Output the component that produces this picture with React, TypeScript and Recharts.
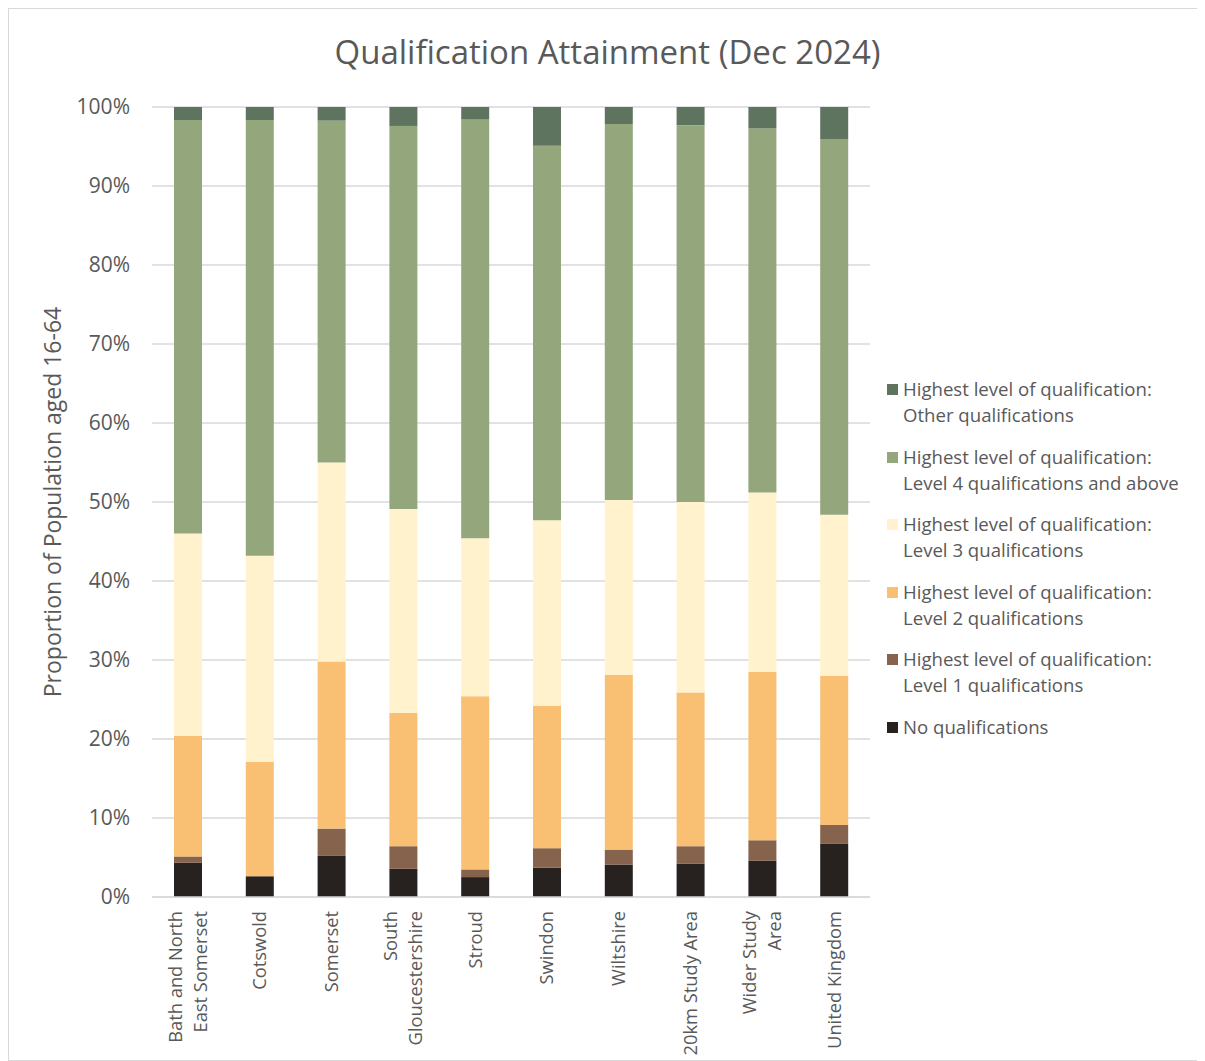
import React from 'react';
import { BarChart, Bar, XAxis, YAxis, CartesianGrid, Legend } from 'recharts';

const categories = [
  'Bath and North East Somerset',
  'Cotswold',
  'Somerset',
  'South Gloucestershire',
  'Stroud',
  'Swindon',
  'Wiltshire',
  '20km Study Area',
  'Wider Study Area',
  'United Kingdom',
];

const categoryLines: string[][] = [
  ['Bath and North', 'East Somerset'],
  ['Cotswold'],
  ['Somerset'],
  ['South', 'Gloucestershire'],
  ['Stroud'],
  ['Swindon'],
  ['Wiltshire'],
  ['20km Study Area'],
  ['Wider Study', 'Area'],
  ['United Kingdom'],
];

const noQualifications = [4.33, 2.63, 5.2, 3.57, 2.52, 3.7, 4.12, 4.2, 4.58, 6.72];
const level1 = [0.8, 0, 3.46, 2.86, 0.97, 2.48, 1.88, 2.23, 2.6, 2.4];
const level2 = [15.27, 14.47, 21.14, 16.87, 21.91, 18.02, 22.1, 19.47, 21.32, 18.88];
const level3 = [25.6, 26.1, 25.2, 25.8, 20.0, 23.5, 22.15, 24.1, 22.7, 20.4];
const level4 = [52.35, 55.15, 43.27, 48.5, 53.0, 47.4, 47.6, 47.7, 46.1, 47.5];
const otherQual = [1.65, 1.65, 1.73, 2.4, 1.6, 4.9, 2.15, 2.3, 2.7, 4.1];

const yTicks = [0, 10, 20, 30, 40, 50, 60, 70, 80, 90, 100];

const seriesDefs = [
  { key: 'noq', name: 'No qualifications', color: '#272220', values: noQualifications },
  { key: 'l1', name: 'Highest level of qualification: Level 1 qualifications', color: '#86634d', values: level1 },
  { key: 'l2', name: 'Highest level of qualification: Level 2 qualifications', color: '#f9bf72', values: level2 },
  { key: 'l3', name: 'Highest level of qualification: Level 3 qualifications', color: '#fff2cc', values: level3 },
  { key: 'l4', name: 'Highest level of qualification: Level 4 qualifications and above', color: '#94a67c', values: level4 },
  { key: 'oth', name: 'Highest level of qualification: Other qualifications', color: '#5e745f', values: otherQual },
];

const legendLines: string[][] = [
  ['Highest level of qualification:', 'Other qualifications'],
  ['Highest level of qualification:', 'Level 4 qualifications and above'],
  ['Highest level of qualification:', 'Level 3 qualifications'],
  ['Highest level of qualification:', 'Level 2 qualifications'],
  ['Highest level of qualification:', 'Level 1 qualifications'],
  ['No qualifications'],
];

const data = categories.map((c, i) => {
  const row: Record<string, any> = { name: c, idx: i };
  seriesDefs.forEach((s) => {
    row[s.key] = s.values[i];
  });
  return row;
});

const FONT = '"Open Sans", "DejaVu Sans", sans-serif';
const TEXT = '#595959';

const XTick = (props: any) => {
  const { x, y, payload } = props;
  const i = categories.indexOf(payload.value);
  const lines = categoryLines[i] || [payload.value];
  const lh = 25;
  const n = lines.length;
  return (
    <g transform={`translate(${x},${y + 14})`}>
      <text transform="rotate(-90)" textAnchor="end" fill={TEXT} fontSize={18.3} fontFamily={FONT}>
        {lines.map((l, k) => (
          <tspan key={k} x={0} y={(k - (n - 1) / 2) * lh + 6.5}>
            {l}
          </tspan>
        ))}
      </text>
    </g>
  );
};

const YLabel = (props: any) => {
  const vb = props.viewBox || {};
  const cx = 44;
  const cy = vb.y + vb.height / 2;
  return (
    <text
      x={cx}
      y={cy}
      transform={`rotate(-90, ${cx}, ${cy})`}
      textAnchor="middle"
      dominantBaseline="central"
      fill={TEXT}
      fontSize={23}
      fontFamily={FONT}
    >
      Proportion of Population aged 16-64
    </text>
  );
};

const legendColors = [...seriesDefs].reverse().map((s) => s.color);

const LegendContent = () => (
  <div style={{ position: 'relative', width: 320, height: 370, fontFamily: FONT, color: TEXT, fontSize: 18.6 }}>
    {legendLines.map((lines, i) => (
      <div key={i} style={{ position: 'absolute', left: 0, top: i * 67.6, display: 'flex', alignItems: 'flex-start' }}>
        <div style={{ width: 11, height: 11, background: legendColors[i], marginTop: 8, marginRight: 5 }} />
        <div style={{ lineHeight: '26px', whiteSpace: 'nowrap' }}>
          {lines.map((l, k) => (
            <div key={k}>{l}</div>
          ))}
        </div>
      </div>
    ))}
  </div>
);

export default function App() {
  return (
    <div
      style={{
        position: 'relative',
        width: 1197,
        height: 1053,
        border: '1px solid #d9d9d9',
        boxSizing: 'border-box',
        background: '#fff',
      }}
    >
      <div
        style={{
          position: 'absolute',
          top: 22,
          left: 0,
          width: 1197,
          textAlign: 'center',
          fontFamily: FONT,
          fontSize: 33,
          lineHeight: '42px',
          color: TEXT,
        }}
      >
        Qualification Attainment (Dec 2024)
      </div>
      <div style={{ position: 'absolute', left: -1, top: -1 }}>
        <BarChart
          width={1197}
          height={1053}
          data={data}
          margin={{ top: 99, right: 335, bottom: 14, left: 34 }}
          barSize={28}
        >
          <CartesianGrid vertical={false} stroke="#d9d9d9" strokeWidth={1.5} />
          <XAxis
            dataKey="name"
            interval={0}
            height={150}
            tickLine={false}
            tickSize={0}
            tickMargin={0}
            axisLine={{ stroke: '#d9d9d9', strokeWidth: 1.5 }}
            tick={<XTick />}
          />
          <YAxis
            width={110}
            domain={[0, 100]}
            ticks={yTicks}
            allowDataOverflow
            axisLine={false}
            tickLine={false}
            tickSize={0}
            tickMargin={22}
            tickFormatter={(v: number) => `${v}%`}
            tick={{ fill: TEXT, fontSize: 21, fontFamily: FONT }}
            label={<YLabel />}
          />
          <Legend
            layout="vertical"
            align="center"
            verticalAlign="middle"
            content={<LegendContent />}
            wrapperStyle={{ position: 'absolute', left: 879, top: 368, width: 320, height: 370 }}
          />
          {seriesDefs.map((s) => (
            <Bar key={s.key} dataKey={s.key} name={s.name} stackId="a" fill={s.color} isAnimationActive={false} />
          ))}
        </BarChart>
      </div>
    </div>
  );
}
